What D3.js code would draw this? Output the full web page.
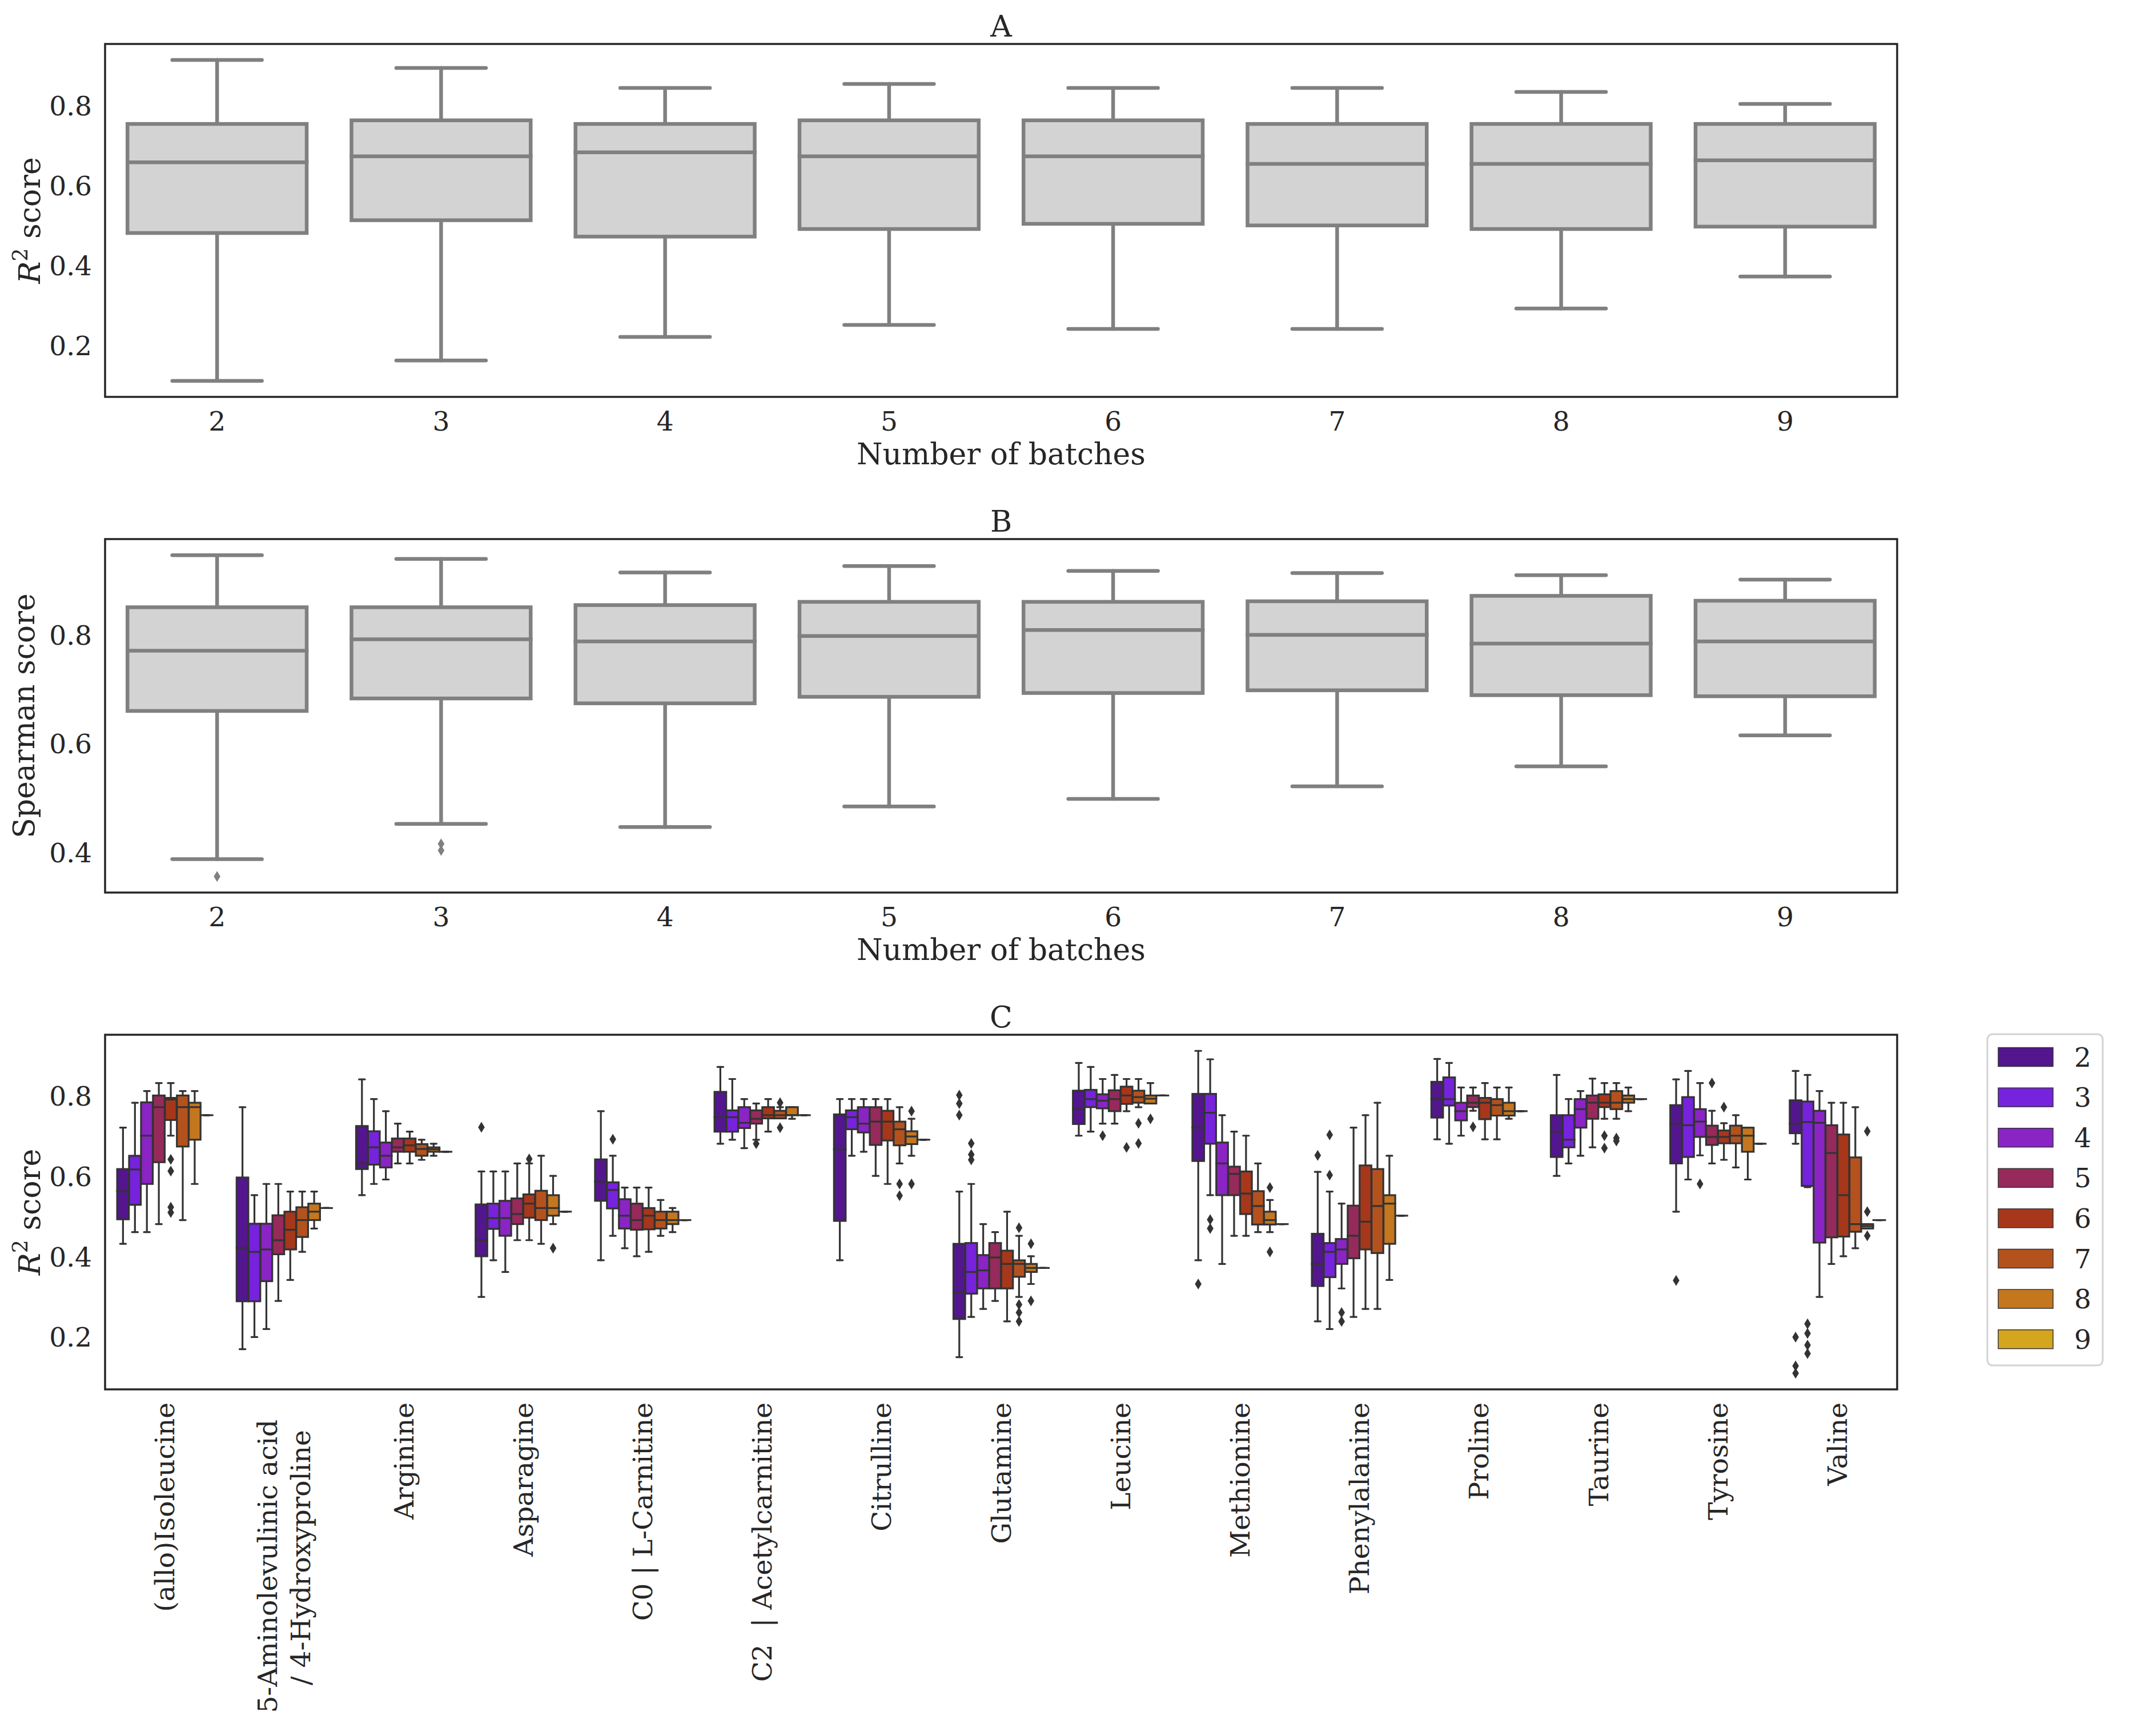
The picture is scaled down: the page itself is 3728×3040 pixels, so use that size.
<!DOCTYPE html>
<html>
<head>
<meta charset="utf-8">
<script src="https://cdn.jsdelivr.net/npm/d3@7"></script>
<style>
  body { margin: 0; background: #fff; }
  svg text { font-family: "DejaVu Serif", serif; fill: #262626; }
</style>
</head>
<body>
<svg id="chart" width="3728" height="3040"></svg>
<script>
// ---------------- data ----------------
var batches = [2, 3, 4, 5, 6, 7, 8, 9];

// panel A, R2 score: [low whisker, Q1, median, Q3, high whisker] per number of batches
var r2Boxes = [
  [0.113, 0.483, 0.660, 0.756, 0.916],
  [0.164, 0.515, 0.675, 0.765, 0.896],
  [0.223, 0.474, 0.685, 0.756, 0.846],
  [0.253, 0.493, 0.675, 0.765, 0.856],
  [0.243, 0.506, 0.675, 0.765, 0.846],
  [0.243, 0.502, 0.656, 0.756, 0.846],
  [0.294, 0.493, 0.656, 0.756, 0.836],
  [0.374, 0.499, 0.665, 0.756, 0.806]
];
var r2Outliers = [];

// panel B, Spearman score
var spearmanBoxes = [
  [0.389, 0.662, 0.773, 0.853, 0.949],
  [0.454, 0.685, 0.794, 0.853, 0.942],
  [0.448, 0.676, 0.790, 0.857, 0.917],
  [0.486, 0.688, 0.800, 0.863, 0.929],
  [0.500, 0.695, 0.811, 0.863, 0.920],
  [0.523, 0.700, 0.802, 0.864, 0.916],
  [0.560, 0.691, 0.786, 0.874, 0.912],
  [0.617, 0.689, 0.790, 0.865, 0.904]
];
var spearmanOutliers = [[2, 0.357], [3, 0.417], [3, 0.405]]; // [batch, value]

// panel C, R2 score per metabolite, split by number of batches (2..9)
var metabolites = [
  "(allo)Isoleucine", "5-Aminolevulinic acid  \n/ 4-Hydroxyproline", "Arginine", "Asparagine",
  "C0 | L-Carnitine", "C2  | Acetylcarnitine", "Citrulline", "Glutamine", "Leucine",
  "Methionine", "Phenylalanine", "Proline", "Taurine", "Tyrosine", "Valine"
];
var batchColors = ["#53168e", "#7722dc", "#8a24c5", "#962a5a", "#a7371a", "#b4521d", "#c4771f", "#d3a61e"];

var cLow = [
  [0.434, 0.463, 0.463, 0.483, 0.703, 0.493, 0.583, 0.754],
  [0.172, 0.202, 0.222, 0.292, 0.344, 0.414, 0.472, 0.523],
  [0.555, 0.583, 0.594, 0.634, 0.634, 0.643, 0.653, 0.663],
  [0.302, 0.393, 0.364, 0.443, 0.443, 0.434, 0.483, 0.514],
  [0.393, 0.454, 0.423, 0.403, 0.414, 0.454, 0.463, 0.493],
  [0.683, 0.693, 0.672, 0.693, 0.713, 0.746, 0.745, 0.754],
  [0.393, 0.653, 0.663, 0.603, 0.583, 0.634, 0.653, 0.693],
  [0.152, 0.252, 0.272, 0.292, 0.241, 0.302, 0.334, 0.374],
  [0.703, 0.713, 0.733, 0.733, 0.764, 0.774, 0.783, 0.803],
  [0.393, 0.555, 0.384, 0.454, 0.454, 0.463, 0.463, 0.483],
  [0.241, 0.222, 0.323, 0.252, 0.272, 0.272, 0.344, 0.504],
  [0.694, 0.683, 0.703, 0.765, 0.694, 0.694, 0.745, 0.764],
  [0.603, 0.634, 0.653, 0.674, 0.745, 0.745, 0.764, 0.794],
  [0.514, 0.594, 0.654, 0.634, 0.643, 0.624, 0.594, 0.683],
  [0.683, 0.575, 0.302, 0.384, 0.403, 0.423, 0.472, 0.493]
];
var cQ1 = [
  [0.495, 0.531, 0.583, 0.637, 0.742, 0.676, 0.693, 0.754],
  [0.291, 0.291, 0.341, 0.408, 0.420, 0.451, 0.493, 0.523],
  [0.620, 0.631, 0.624, 0.663, 0.663, 0.653, 0.663, 0.663],
  [0.403, 0.471, 0.454, 0.483, 0.499, 0.493, 0.504, 0.514],
  [0.541, 0.522, 0.472, 0.469, 0.470, 0.472, 0.483, 0.493],
  [0.713, 0.713, 0.722, 0.733, 0.746, 0.746, 0.754, 0.754],
  [0.491, 0.719, 0.711, 0.680, 0.691, 0.679, 0.682, 0.693],
  [0.247, 0.310, 0.323, 0.323, 0.323, 0.352, 0.364, 0.374],
  [0.732, 0.774, 0.771, 0.764, 0.782, 0.785, 0.783, 0.803],
  [0.640, 0.683, 0.555, 0.555, 0.508, 0.482, 0.482, 0.483],
  [0.329, 0.351, 0.384, 0.398, 0.420, 0.411, 0.434, 0.504],
  [0.748, 0.778, 0.741, 0.774, 0.744, 0.753, 0.753, 0.764],
  [0.650, 0.674, 0.723, 0.745, 0.774, 0.769, 0.785, 0.794],
  [0.634, 0.650, 0.700, 0.680, 0.684, 0.684, 0.663, 0.683],
  [0.709, 0.578, 0.437, 0.450, 0.452, 0.464, 0.472, 0.493]
];
var cMedian = [
  [0.565, 0.619, 0.703, 0.774, 0.793, 0.774, 0.774, 0.754],
  [0.424, 0.414, 0.420, 0.443, 0.469, 0.493, 0.514, 0.523],
  [0.634, 0.674, 0.653, 0.674, 0.679, 0.670, 0.669, 0.663],
  [0.443, 0.498, 0.498, 0.508, 0.534, 0.523, 0.523, 0.514],
  [0.589, 0.568, 0.504, 0.493, 0.504, 0.493, 0.493, 0.493],
  [0.749, 0.749, 0.735, 0.745, 0.754, 0.754, 0.754, 0.754],
  [0.669, 0.749, 0.733, 0.738, 0.738, 0.719, 0.701, 0.693],
  [0.313, 0.364, 0.368, 0.400, 0.384, 0.384, 0.374, 0.374],
  [0.769, 0.794, 0.790, 0.794, 0.803, 0.799, 0.795, 0.803],
  [0.723, 0.760, 0.634, 0.608, 0.559, 0.528, 0.493, 0.483],
  [0.384, 0.414, 0.420, 0.454, 0.489, 0.528, 0.534, 0.504],
  [0.794, 0.794, 0.764, 0.785, 0.785, 0.779, 0.764, 0.764],
  [0.713, 0.693, 0.769, 0.785, 0.785, 0.785, 0.794, 0.794],
  [0.733, 0.729, 0.738, 0.700, 0.700, 0.703, 0.703, 0.683],
  [0.733, 0.737, 0.735, 0.660, 0.555, 0.483, 0.478, 0.493]
];
var cQ3 = [
  [0.620, 0.653, 0.786, 0.803, 0.797, 0.803, 0.785, 0.754],
  [0.599, 0.484, 0.484, 0.505, 0.514, 0.525, 0.534, 0.523],
  [0.727, 0.714, 0.686, 0.696, 0.696, 0.682, 0.674, 0.663],
  [0.532, 0.534, 0.541, 0.547, 0.557, 0.566, 0.555, 0.514],
  [0.644, 0.587, 0.545, 0.534, 0.523, 0.514, 0.514, 0.493],
  [0.812, 0.766, 0.774, 0.766, 0.774, 0.765, 0.774, 0.754],
  [0.756, 0.766, 0.774, 0.774, 0.765, 0.738, 0.714, 0.693],
  [0.434, 0.436, 0.406, 0.436, 0.417, 0.393, 0.384, 0.374],
  [0.815, 0.817, 0.806, 0.816, 0.825, 0.815, 0.803, 0.803],
  [0.807, 0.807, 0.686, 0.626, 0.614, 0.565, 0.514, 0.483],
  [0.459, 0.436, 0.446, 0.529, 0.629, 0.620, 0.555, 0.504],
  [0.837, 0.848, 0.785, 0.803, 0.797, 0.794, 0.785, 0.764],
  [0.754, 0.754, 0.794, 0.803, 0.806, 0.814, 0.803, 0.794],
  [0.779, 0.799, 0.769, 0.728, 0.716, 0.728, 0.723, 0.683],
  [0.791, 0.788, 0.765, 0.729, 0.706, 0.649, 0.483, 0.493]
];
var cHigh = [
  [0.723, 0.785, 0.814, 0.834, 0.834, 0.814, 0.814, 0.754],
  [0.774, 0.555, 0.583, 0.583, 0.564, 0.564, 0.564, 0.523],
  [0.843, 0.794, 0.764, 0.733, 0.713, 0.693, 0.683, 0.663],
  [0.614, 0.614, 0.614, 0.634, 0.634, 0.653, 0.603, 0.514],
  [0.764, 0.653, 0.574, 0.574, 0.574, 0.543, 0.523, 0.493],
  [0.874, 0.844, 0.794, 0.783, 0.794, 0.774, 0.774, 0.754],
  [0.794, 0.794, 0.794, 0.794, 0.794, 0.774, 0.745, 0.693],
  [0.564, 0.583, 0.483, 0.463, 0.514, 0.454, 0.403, 0.374],
  [0.884, 0.874, 0.844, 0.854, 0.844, 0.844, 0.834, 0.803],
  [0.914, 0.893, 0.754, 0.713, 0.703, 0.634, 0.543, 0.483],
  [0.613, 0.564, 0.534, 0.723, 0.754, 0.785, 0.653, 0.504],
  [0.894, 0.884, 0.823, 0.823, 0.834, 0.823, 0.823, 0.764],
  [0.854, 0.794, 0.814, 0.845, 0.834, 0.834, 0.823, 0.794],
  [0.843, 0.864, 0.834, 0.765, 0.734, 0.754, 0.723, 0.683],
  [0.864, 0.854, 0.814, 0.785, 0.785, 0.774, 0.483, 0.493]
];
// [metabolite index, batch, value]
var cOutliers = [
  [0, 6, 0.644], [0, 6, 0.615], [0, 6, 0.525], [0, 6, 0.512],
  [3, 2, 0.724], [3, 6, 0.645], [3, 8, 0.423],
  [4, 3, 0.694],
  [5, 5, 0.683], [5, 7, 0.785], [5, 7, 0.723],
  [6, 7, 0.583], [6, 7, 0.554], [6, 8, 0.764], [6, 8, 0.583],
  [7, 2, 0.804], [7, 2, 0.783], [7, 2, 0.754], [7, 3, 0.684], [7, 3, 0.656], [7, 3, 0.643],
  [7, 7, 0.474], [7, 7, 0.283], [7, 7, 0.263], [7, 7, 0.241], [7, 8, 0.434], [7, 8, 0.292],
  [8, 4, 0.703], [8, 6, 0.674], [8, 7, 0.734], [8, 7, 0.684], [8, 8, 0.745],
  [9, 2, 0.334], [9, 3, 0.494], [9, 3, 0.472], [9, 8, 0.574], [9, 8, 0.414],
  [10, 2, 0.654], [10, 3, 0.705], [10, 3, 0.605], [10, 4, 0.263], [10, 4, 0.241],
  [11, 5, 0.725],
  [12, 6, 0.703], [12, 6, 0.672], [12, 7, 0.697], [12, 7, 0.690],
  [13, 2, 0.343], [13, 4, 0.583], [13, 5, 0.834], [13, 6, 0.774],
  [14, 2, 0.202], [14, 2, 0.130], [14, 2, 0.112], [14, 3, 0.235], [14, 3, 0.211],
  [14, 3, 0.182], [14, 3, 0.161], [14, 8, 0.714], [14, 8, 0.514], [14, 8, 0.454]
];

// ---------------- layout ----------------
var svg = d3.select("#chart");
svg.append("rect").attr("width", 3728).attr("height", 3040).attr("fill", "#fff");

var left = 184, right = 3322, midX = (left + right) / 2;
var tickFont = 47, labelFont = 52;

// matplotlib style autoscale: data range padded by 5%
function paddedDomain(values) {
  var ext = d3.extent(values);
  var pad = (ext[1] - ext[0]) * 0.05;
  return [ext[0] - pad, ext[1] + pad];
}

// thin diamond flier
function diamondPath(cx, cy) {
  var w = 5.8, h = 9.5;
  return "M" + cx + "," + (cy - h) + "L" + (cx + w) + "," + cy + "L" + cx + "," + (cy + h) + "L" + (cx - w) + "," + cy + "Z";
}

function drawBox(g, cx, w, s, y, fill, stroke, lw) {
  var b = g.append("g");
  // whiskers
  b.append("line").attr("x1", cx).attr("x2", cx).attr("y1", y(s[4])).attr("y2", y(s[3]));
  b.append("line").attr("x1", cx).attr("x2", cx).attr("y1", y(s[1])).attr("y2", y(s[0]));
  // caps
  b.append("line").attr("x1", cx - w / 4).attr("x2", cx + w / 4).attr("y1", y(s[4])).attr("y2", y(s[4]));
  b.append("line").attr("x1", cx - w / 4).attr("x2", cx + w / 4).attr("y1", y(s[0])).attr("y2", y(s[0]));
  b.selectAll("line").attr("stroke", stroke).attr("stroke-width", lw).attr("stroke-linecap", "round");
  // box
  b.append("rect")
    .attr("x", cx - w / 2).attr("width", w)
    .attr("y", y(s[3])).attr("height", y(s[1]) - y(s[3]))
    .attr("fill", fill).attr("stroke", stroke).attr("stroke-width", lw);
  // median
  b.append("line").attr("x1", cx - w / 2).attr("x2", cx + w / 2)
    .attr("y1", y(s[2])).attr("y2", y(s[2]))
    .attr("stroke", stroke).attr("stroke-width", lw).attr("stroke-linecap", "square");
}

function yAxis(g, y, ticks) {
  var ax = g.append("g").attr("transform", "translate(" + left + ",0)")
    .call(d3.axisLeft(y).tickValues(ticks).tickSize(0).tickPadding(23).tickFormat(d3.format(".1f")));
  ax.select(".domain").remove();
  ax.selectAll("text").attr("font-size", tickFont).attr("font-family", "DejaVu Serif").attr("fill", "#262626");
}

function frame(g, top, bottom) {
  g.append("rect").attr("x", left).attr("y", top).attr("width", right - left).attr("height", bottom - top)
    .attr("fill", "none").attr("stroke", "#262626").attr("stroke-width", 3.5);
}

function title(g, txt, top) {
  g.append("text").attr("x", midX).attr("y", top - 13).attr("text-anchor", "middle")
    .attr("font-size", labelFont).text(txt);
}

function r2Label(g, x, cy) {
  var t = g.append("text").attr("transform", "translate(" + x + "," + cy + ") rotate(-90)")
    .attr("text-anchor", "middle").attr("font-size", labelFont);
  t.append("tspan").attr("font-style", "italic").text("R");
  t.append("tspan").attr("font-size", labelFont * 0.7).attr("dy", -labelFont * 0.42).text("2");
  t.append("tspan").attr("dy", labelFont * 0.42).text(" score");
}

// ---------------- panels A and B ----------------
function batchPanel(opts) {
  var g = svg.append("g");
  var allVals = d3.merge(opts.boxes).concat(opts.outliers.map(function (d) { return d[1]; }));
  var y = d3.scaleLinear().domain(paddedDomain(allVals)).range([opts.bottom, opts.top]);
  var x = d3.scaleBand().domain(batches).range([left, right]);
  var w = x.bandwidth() * 0.8;

  batches.forEach(function (b, i) {
    drawBox(g, x(b) + x.bandwidth() / 2, w, opts.boxes[i], y, "#d3d3d3", "#808080", 6.5);
  });
  g.selectAll("path.flier").data(opts.outliers).join("path").attr("class", "flier")
    .attr("d", function (d) { return diamondPath(x(d[0]) + x.bandwidth() / 2, y(d[1])); })
    .attr("fill", "#808080");

  yAxis(g, y, opts.ticks);
  var xa = g.append("g").attr("transform", "translate(0," + opts.bottom + ")")
    .call(d3.axisBottom(x).tickSize(0));
  xa.select(".domain").remove();
  xa.selectAll("text").attr("y", 59).attr("dy", null)
    .attr("font-size", tickFont).attr("font-family", "DejaVu Serif").attr("fill", "#262626");

  frame(g, opts.top, opts.bottom);
  title(g, opts.title, opts.top);
  g.append("text").attr("x", midX).attr("y", opts.bottom + 118).attr("text-anchor", "middle")
    .attr("font-size", labelFont).text("Number of batches");
  opts.ylabel(g, (opts.top + opts.bottom) / 2);
}

batchPanel({
  top: 77, bottom: 695, boxes: r2Boxes, outliers: r2Outliers, ticks: [0.2, 0.4, 0.6, 0.8], title: "A",
  ylabel: function (g, cy) { r2Label(g, 70, cy); }
});
batchPanel({
  top: 944, bottom: 1563, boxes: spearmanBoxes, outliers: spearmanOutliers, ticks: [0.4, 0.6, 0.8], title: "B",
  ylabel: function (g, cy) {
    g.append("text").attr("transform", "translate(60," + cy + ") rotate(-90)")
      .attr("text-anchor", "middle").attr("font-size", labelFont).text("Spearman score");
  }
});

// ---------------- panel C ----------------
(function () {
  var top = 1812, bottom = 2433;
  var g = svg.append("g");
  var allVals = d3.merge([d3.merge(cLow), d3.merge(cHigh)]).concat(cOutliers.map(function (d) { return d[2]; }));
  var y = d3.scaleLinear().domain(paddedDomain(allVals)).range([bottom, top]);
  var x = d3.scaleBand().domain(metabolites).range([left, right]);
  var hue = d3.scaleBand().domain(batches).range([-0.4 * x.bandwidth(), 0.4 * x.bandwidth()]);
  var w = hue.bandwidth() * 0.98;
  var color = d3.scaleOrdinal().domain(batches).range(batchColors);

  metabolites.forEach(function (m, i) {
    var c = x(m) + x.bandwidth() / 2;
    batches.forEach(function (b, j) {
      var s = [cLow[i][j], cQ1[i][j], cMedian[i][j], cQ3[i][j], cHigh[i][j]];
      drawBox(g, c + hue(b) + hue.bandwidth() / 2, w, s, y, color(b), "#333333", 3.2);
    });
  });
  g.selectAll("path.flier").data(cOutliers).join("path").attr("class", "flier")
    .attr("d", function (d) {
      return diamondPath(x(metabolites[d[0]]) + x.bandwidth() / 2 + hue(d[1]) + hue.bandwidth() / 2, y(d[2]));
    })
    .attr("fill", "#333333");

  yAxis(g, y, [0.2, 0.4, 0.6, 0.8]);

  // rotated category labels, top aligned just under the axis, lines centred on each other
  var xa = g.append("g").attr("transform", "translate(0," + bottom + ")")
    .call(d3.axisBottom(x).tickSize(0).tickFormat(function () { return ""; }));
  xa.select(".domain").remove();
  xa.selectAll(".tick").each(function (d) {
    var lines = d.split("\n");
    var lg = d3.select(this).append("g").attr("transform", "translate(0,23) rotate(-90)");
    var texts = lines.map(function (ln, k) {
      return lg.append("text").attr("font-size", tickFont).attr("font-family", "DejaVu Serif")
        .attr("fill", "#262626").attr("xml:space", "preserve").style("white-space", "pre")
        .attr("y", (k - (lines.length - 1) / 2) * tickFont * 1.23)
        .attr("dominant-baseline", "central").text(ln);
    });
    var maxLen = d3.max(texts, function (t) { return t.node().getComputedTextLength(); });
    texts.forEach(function (t) { t.attr("text-anchor", "middle").attr("x", -maxLen / 2); });
  });

  frame(g, top, bottom);
  title(g, "C", top);
  r2Label(g, 70, (top + bottom) / 2);

  // legend
  var lg = svg.append("g");
  lg.append("rect").attr("x", 3480).attr("y", 1811).attr("width", 202).attr("height", 580)
    .attr("rx", 9).attr("fill", "#fff").attr("stroke", "#d3d3d3").attr("stroke-width", 3);
  var item = lg.selectAll("g.item").data(batches).join("g").attr("class", "item")
    .attr("transform", function (d, i) { return "translate(0," + (1851 + i * 70.6) + ")"; });
  item.append("rect").attr("x", 3499).attr("y", -16.5).attr("width", 96).attr("height", 33)
    .attr("fill", function (d) { return color(d); }).attr("stroke", "#333333").attr("stroke-width", 1.5);
  item.append("text").attr("x", 3632).attr("dominant-baseline", "central")
    .attr("font-size", tickFont).text(function (d) { return d; });
})();
</script>
</body>
</html>
